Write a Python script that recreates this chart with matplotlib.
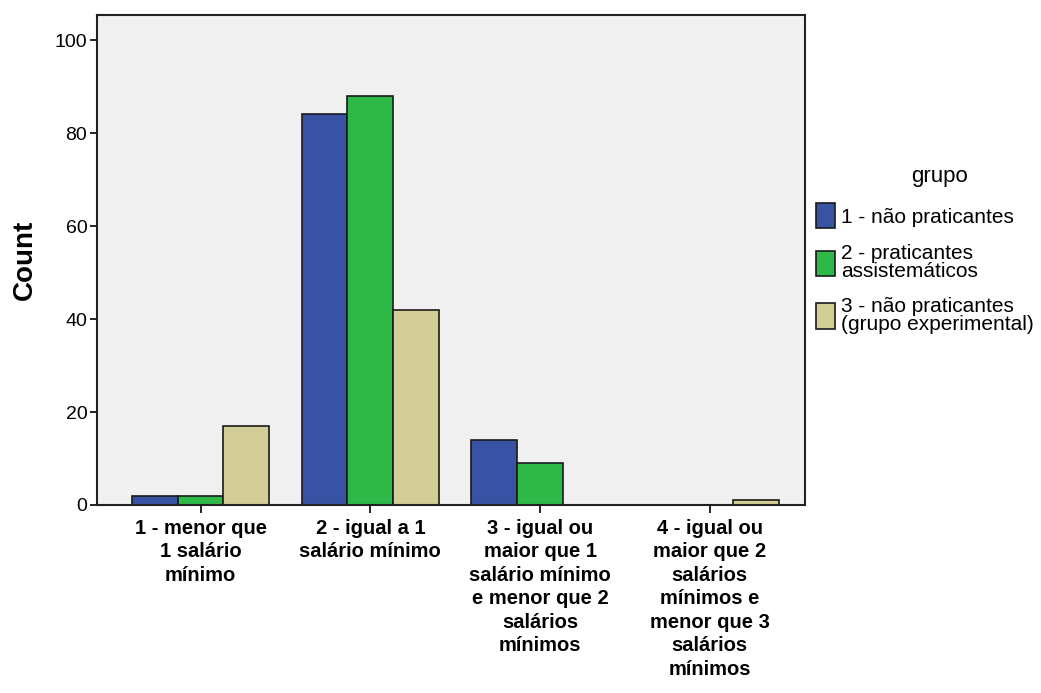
import numpy as np
import matplotlib
matplotlib.use('Agg')
from matplotlib import pyplot as plt

categorias = ['1 - menor que\n1 salário\nmínimo',
              '2 - igual a 1\nsalário mínimo',
              '3 - igual ou\nmaior que 1\nsalário mínimo\ne menor que 2\nsalários\nmínimos',
              '4 - igual ou\nmaior que 2\nsalários\nmínimos e\nmenor que 3\nsalários\nmínimos']
grupos = ['1 - não praticantes', '2 - praticantes\nassistemáticos',
          '3 - não praticantes\n(grupo experimental)']
nao_praticantes = [2, 84, 14, 0]
assistematicos = [2, 88, 9, 0]
experimental = [17, 42, 0, 1]
cores = ['#3953A4', '#2EB848', '#D3CE97']

plt.rcParams['font.family'] = ['Liberation Sans', 'DejaVu Sans']

fig = plt.figure(figsize=(10.41, 6.93), dpi=100)
ax = fig.add_axes([0.0932, 0.2713, 0.68, 0.7071])
ax.set_facecolor('#F0F0F0')

x = np.arange(len(categorias))
w = 0.27
series = [nao_praticantes, assistematicos, experimental]
handles = []
for i, vals in enumerate(series):
    b = ax.bar(x + (i - 1) * w, vals, w, color=cores[i], edgecolor='#1a1a1a',
               linewidth=1.2, label=grupos[i])
    handles.append(b)

ax.set_xlim(-0.61, 3.56)
ax.set_ylim(0, 105.4)
ax.set_yticks([0, 20, 40, 60, 80, 100])
ax.tick_params(axis='y', labelsize=14, length=5, width=1.2, pad=2)
ax.tick_params(axis='x', length=6, width=1.2, pad=4)
ax.set_xticks(x)
ax.set_xticklabels(categorias, fontsize=14.5, fontweight='bold', linespacing=1.3)
ax.set_ylabel('Count', fontsize=20, fontweight='bold', labelpad=12)
for s in ax.spines.values():
    s.set_linewidth(1.5)
    s.set_color('#222222')

leg = fig.legend(handles=handles, labels=grupos, title='grupo', loc='upper left',
                 bbox_to_anchor=(0.776, 0.772), frameon=False, fontsize=15,
                 title_fontsize=16, handlelength=0.9, handleheight=1.5,
                 handletextpad=0.3, labelspacing=0.75, borderaxespad=0)
leg._legend_box.align = 'left'
leg.get_title().set_position((95, 0))
for t in leg.get_texts():
    t.set_linespacing(0.95)

fig.savefig('out.png', dpi=100, facecolor='white')
